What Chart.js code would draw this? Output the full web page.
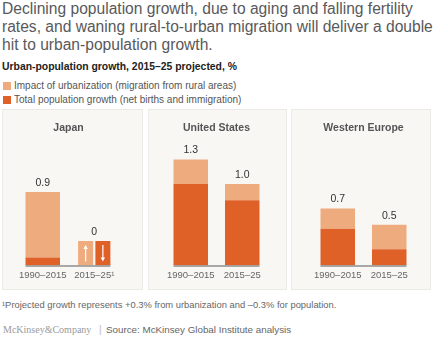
<!DOCTYPE html>
<html>
<head>
<meta charset="utf-8">
<script src="https://cdn.jsdelivr.net/npm/chart.js@4.4.1/dist/chart.umd.min.js"></script>
<style>
  body { margin: 0; width: 433px; height: 340px; background: #fff; font-family: "Liberation Sans", Arial, sans-serif; position: relative; overflow: hidden; }
  .abs { position: absolute; white-space: nowrap; }
  #title { left: 2px; top: 0px; font-size: 15.6px; line-height: 18px; color: #58595b; white-space: normal; width: 431px; }
  #subtitle { left: 2px; top: 60px; font-size: 10.4px; line-height: 14px; font-weight: bold; color: #222; }
  .sw { position: absolute; left: 3px; width: 8px; height: 8px; }
  .lg { left: 14px; font-size: 10px; line-height: 12px; color: #555; }
  .panel { position: absolute; top: 109px; height: 179px; background: #f8f7f4; border: 1px solid #ebeae6; }
  .panel canvas { position: absolute; left: 0; top: 0; }
  #note { left: 2px; top: 299px; font-size: 9.4px; line-height: 12px; color: #666; }
  #logo { left: 3px; top: 324px; font-family: "Liberation Serif", "DejaVu Serif", serif; font-size: 10px; line-height: 12px; color: #9a9a9a; }
  #bar { left: 99px; top: 324px; font-size: 10px; line-height: 12px; color: #bbb; }
  #source { left: 106px; top: 324px; font-size: 9.8px; line-height: 12px; color: #666; }
</style>
</head>
<body>
<div id="title" class="abs">Declining population growth, due to aging and falling fertility rates, and waning rural-to-urban migration will deliver a double hit to urban-population growth.</div>
<div id="subtitle" class="abs">Urban-population growth, 2015–25 projected, %</div>
<div class="sw" style="top:82px;background:#eeab7e"></div>
<div class="abs lg" style="top:80px">Impact of urbanization (migration from rural areas)</div>
<div class="sw" style="top:96px;background:#df6128"></div>
<div class="abs lg" style="top:94px">Total population growth (net births and immigration)</div>

<div class="panel" style="left:2px;width:139px"><canvas id="c0" width="139" height="179"></canvas></div>
<div class="panel" style="left:148px;width:137px"><canvas id="c1" width="137" height="179"></canvas></div>
<div class="panel" style="left:291px;width:138px"><canvas id="c2" width="138" height="179"></canvas></div>

<div id="note" class="abs">¹Projected growth represents +0.3% from urbanization and –0.3% for population.</div>
<div id="logo" class="abs">McKinsey&amp;Company</div>
<div id="bar" class="abs">|</div>
<div id="source" class="abs">Source: McKinsey Global Institute analysis</div>

<script>
// data
const regions = ['Japan', 'United States', 'Western Europe'];
const periods = [
  ['1990–2015', '2015–25¹'],
  ['1990–2015', '2015–25'],
  ['1990–2015', '2015–25']
];
const urbanization = [[0.8, 0.3], [0.3, 0.2], [0.25, 0.3]];
const population = [[0.1, -0.3], [1.0, 0.8], [0.45, 0.2]];

const lightOrange = '#eeab7e';
const darkOrange = '#df6128';
// chart area side padding per panel
const sidePad = [[14, 22], [16, 18], [20, 15]];

function fmt(v) {
  const r = Math.round(v * 10) / 10;
  return r === 0 ? '0' : r.toFixed(1);
}

// draws baseline, total labels and the arrows in split bars
const marksPlugin = {
  id: 'marks',
  afterDatasetsDraw(chart) {
    const ctx = chart.ctx;
    const y0 = chart.scales.y.getPixelForValue(0);
    const cols = {};
    ctx.save();
    chart.data.datasets.forEach((ds, di) => {
      const meta = chart.getDatasetMeta(di);
      meta.data.forEach((bar, i) => {
        if (ds.data[i] === null) return;
        const c = cols[i] || (cols[i] = { l: Infinity, r: -Infinity, t: Infinity });
        c.l = Math.min(c.l, bar.x - bar.width / 2);
        c.r = Math.max(c.r, bar.x + bar.width / 2);
        c.t = Math.min(c.t, bar.y);
        if (ds.arrow) {
          const up = ds.arrow === 'up';
          const top = bar.y + 4, bot = y0 - 4;
          ctx.strokeStyle = '#fff';
          ctx.fillStyle = '#fff';
          ctx.lineWidth = 1.2;
          ctx.beginPath();
          ctx.moveTo(bar.x, up ? bot : top);
          ctx.lineTo(bar.x, up ? top + 3 : bot - 3);
          ctx.stroke();
          const hy = up ? top : bot;
          const d = up ? 4 : -4;
          ctx.beginPath();
          ctx.moveTo(bar.x, hy);
          ctx.lineTo(bar.x - 2.2, hy + d);
          ctx.lineTo(bar.x + 2.2, hy + d);
          ctx.closePath();
          ctx.fill();
        }
      });
    });
    const keys = Object.keys(cols);
    const l = Math.min(...keys.map(k => cols[k].l));
    const r = Math.max(...keys.map(k => cols[k].r));
    ctx.strokeStyle = '#8e8e8e';
    ctx.lineWidth = 1.5;
    ctx.beginPath();
    ctx.moveTo(l, y0 + 0.5);
    ctx.lineTo(r, y0 + 0.5);
    ctx.stroke();

    const totals = chart.options.plugins.marks.totals;
    ctx.fillStyle = '#333';
    ctx.font = '10.5px "Liberation Sans", Arial, sans-serif';
    ctx.textAlign = 'center';
    ctx.textBaseline = 'middle';
    keys.forEach(k => {
      const c = cols[k];
      ctx.fillText(fmt(totals[k]), (c.l + c.r) / 2, c.t - 9);
    });
    ctx.restore();
  }
};

regions.forEach((name, ri) => {
  const urb = urbanization[ri];
  const pop = population[ri];
  const split = pop.map(v => v < 0);
  const totals = urb.map((v, i) => v + pop[i]);

  new Chart(document.getElementById('c' + ri), {
    type: 'bar',
    data: {
      labels: periods[ri],
      datasets: [
        { label: 'Total population growth', stack: 'a', backgroundColor: darkOrange,
          data: pop.map((v, i) => split[i] ? null : v) },
        { label: 'Impact of urbanization', stack: 'a', backgroundColor: lightOrange,
          data: urb.map((v, i) => split[i] ? null : v) },
        { label: 'Impact of urbanization', stack: 'b', backgroundColor: lightOrange, arrow: 'up', barPercentage: 0.87,
          data: urb.map((v, i) => split[i] ? v : null) },
        { label: 'Total population growth', stack: 'c', backgroundColor: darkOrange, arrow: 'down', barPercentage: 0.87,
          data: pop.map((v, i) => split[i] ? Math.abs(v) : null) }
      ]
    },
    options: {
      responsive: false,
      animation: false,
      layout: { padding: { left: sidePad[ri][0], right: sidePad[ri][1], top: 0, bottom: 3 } },
      datasets: { bar: { skipNull: true, categoryPercentage: 0.67, barPercentage: 1 } },
      scales: {
        x: {
          grid: { display: false, drawTicks: false },
          border: { display: false },
          ticks: { color: '#666', font: { size: 9.5, family: '"Liberation Sans", Arial, sans-serif' }, padding: 4.5, maxRotation: 0 }
        },
        y: {
          display: false,
          stacked: true,
          min: 0,
          max: 1.55
        }
      },
      plugins: {
        legend: { display: false },
        tooltip: { enabled: false },
        title: {
          display: true,
          text: name,
          color: '#555',
          font: { size: 10.5, weight: 'bold', family: '"Liberation Sans", Arial, sans-serif' },
          padding: { top: 12, bottom: 4.4 }
        },
        marks: { totals: totals }
      }
    },
    plugins: [marksPlugin]
  });
});
</script>
</body>
</html>
